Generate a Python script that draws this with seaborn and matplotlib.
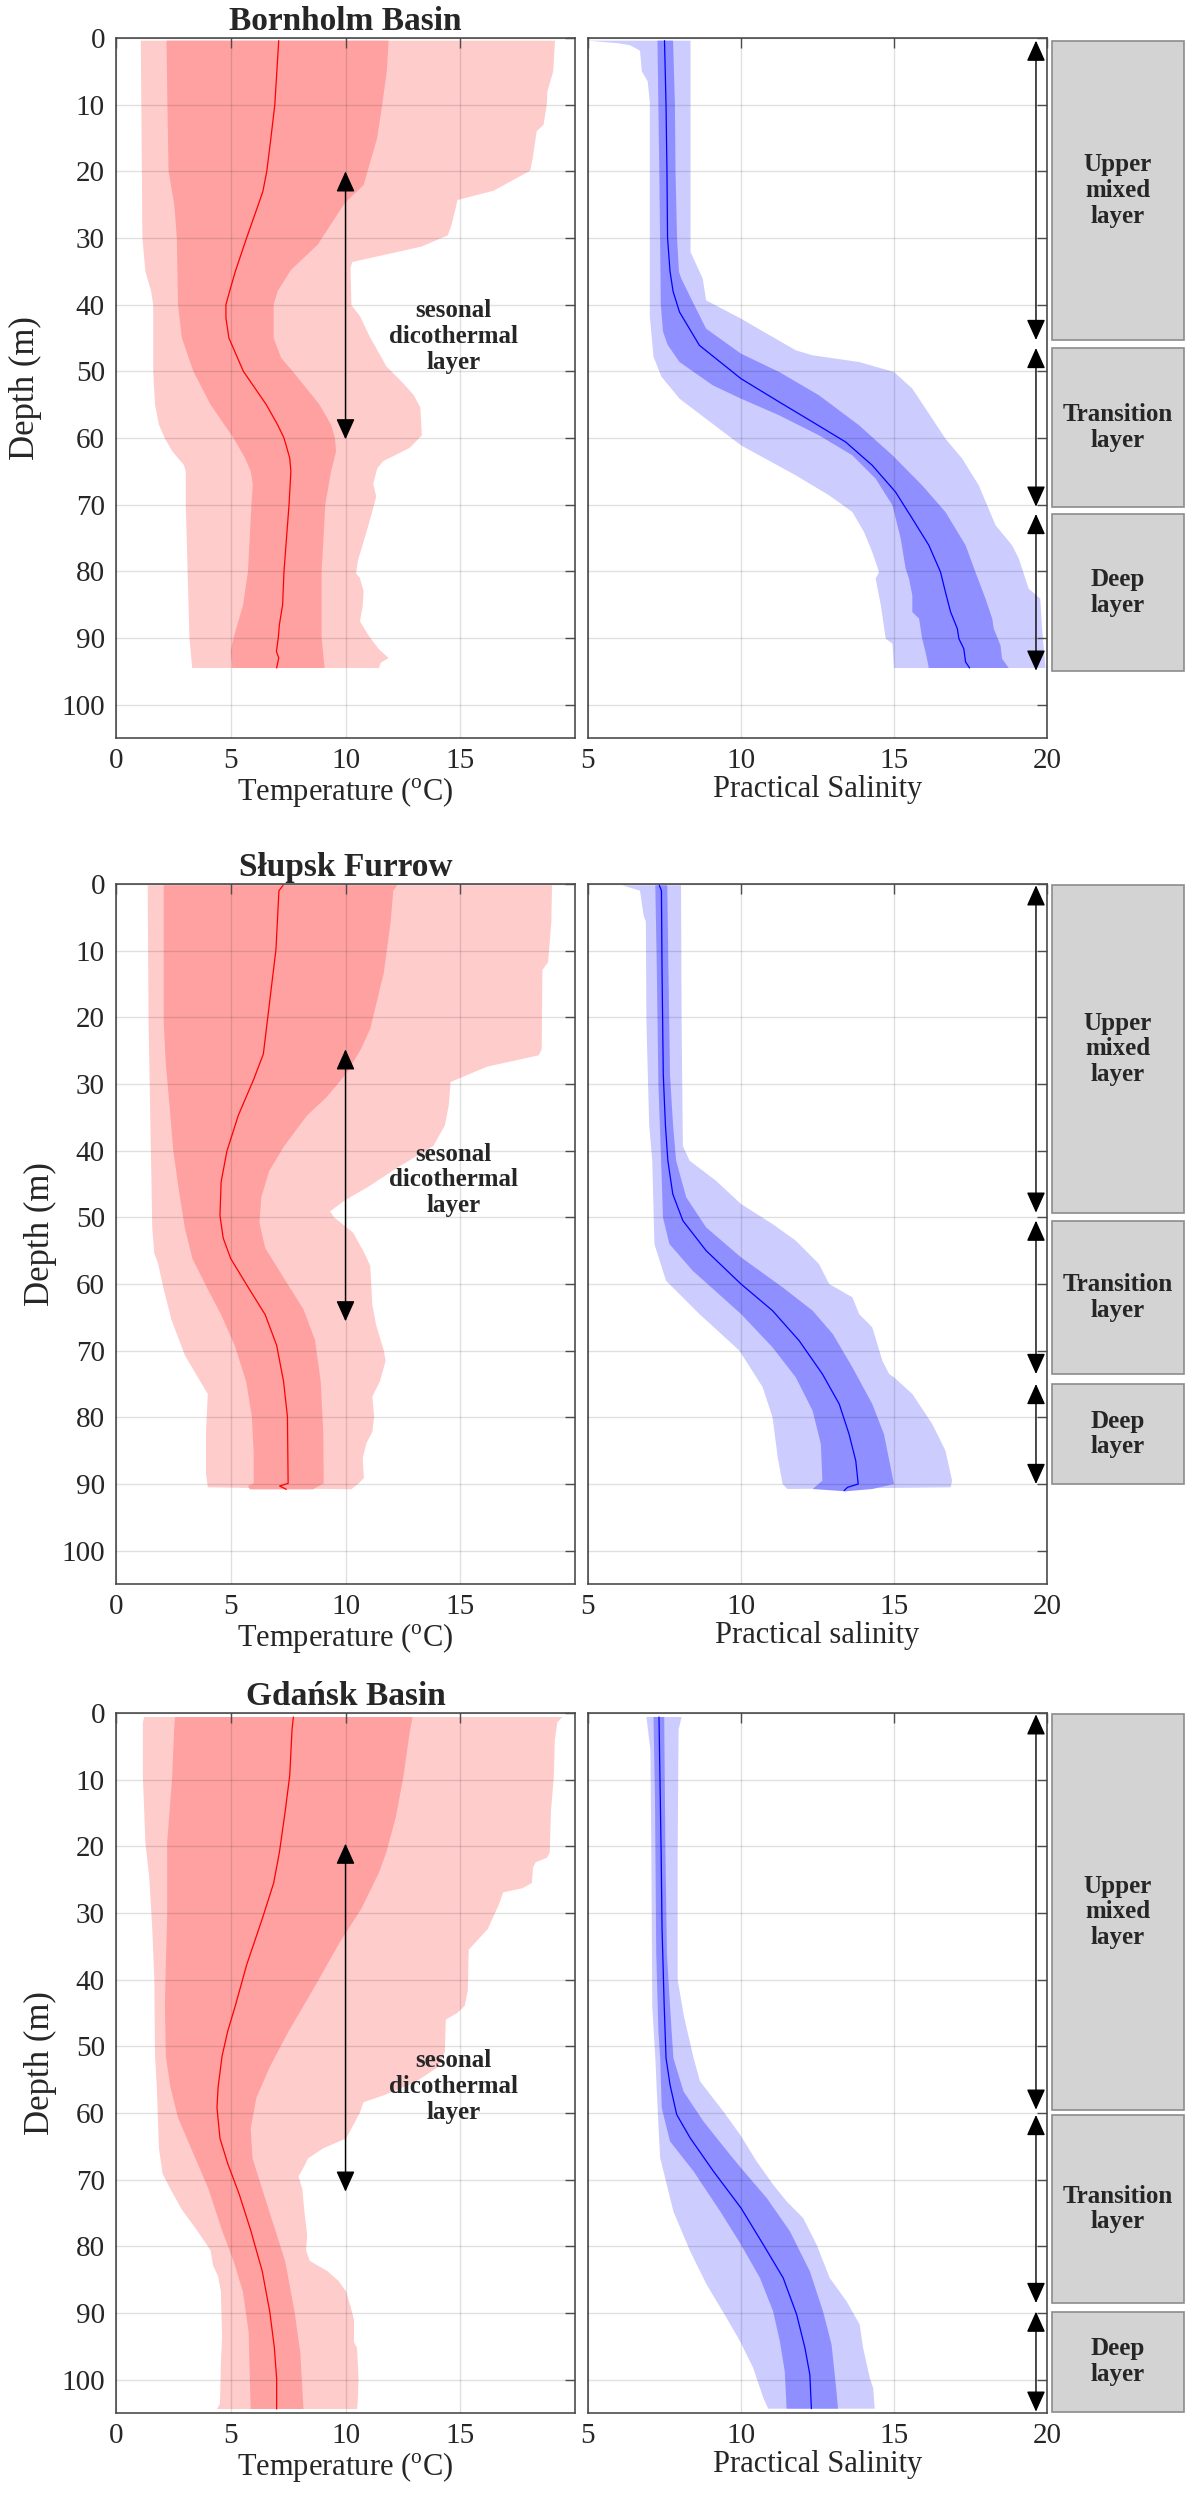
import numpy as np
import matplotlib.pyplot as plt
import seaborn as sns
from matplotlib.patches import Rectangle

# profiles: (depth m, value)
# Bornholm Basin
bh_t_mean = [(0.4, 7.09), (10, 6.92), (15, 6.75), (20, 6.57), (23, 6.4), (25, 6.2), (30, 5.69), (35, 5.2),
             (38, 4.95), (40, 4.79), (42, 4.79), (45, 4.92), (50, 5.55), (55, 6.55), (58, 7.04), (60, 7.32),
             (63, 7.57), (65, 7.62), (70, 7.54), (80, 7.32), (85, 7.26), (88, 7.12), (90, 7.07), (92, 6.99),
             (93, 7.09), (94.5, 7.0)]
bh_t_in_lo = [(0.4, 2.2), (10, 2.24), (20, 2.29), (25, 2.54), (30, 2.65), (40, 2.7), (45, 2.87), (50, 3.37),
              (55, 4.12), (60, 5.12), (63, 5.62), (65, 5.87), (67, 5.96), (70, 5.9), (80, 5.75), (85, 5.54),
              (88, 5.29), (90, 5.12), (92, 5.0), (94.5, 5.07)]
bh_t_in_hi = [(0.4, 11.88), (5, 11.8), (10, 11.6), (15, 11.38), (20, 10.96), (22, 10.8), (24.8, 9.96),
              (31, 8.79), (34.8, 7.62), (38, 7.04), (40, 6.87), (45, 6.87), (48, 7.2), (50, 7.7), (55, 8.87),
              (58, 9.37), (60, 9.54), (62, 9.59), (65, 9.37), (70, 9.12), (75, 9.04), (80, 8.96), (90, 8.96),
              (94.5, 9.09)]
bh_t_out_lo = [(0.4, 1.08), (30, 1.15), (35, 1.28), (38, 1.53), (40, 1.62), (50, 1.62), (55, 1.7), (58, 1.87),
               (60, 2.12), (62, 2.45), (64, 2.95), (65, 3.04), (70, 3.04), (80, 3.12), (90, 3.2), (94.5, 3.32)]
bh_t_out_hi = [(0.4, 19.13), (5, 19.05), (8, 18.8), (10, 18.77), (13, 18.63), (14, 18.33), (18, 18.16),
               (19.9, 18.05), (22.9, 16.46), (24.3, 14.88), (25.5, 14.8), (27.9, 14.63), (29.6, 14.46),
               (31.3, 13.3), (33.6, 10.29), (34.5, 10.22), (40.1, 10.26), (41.7, 10.63), (44.7, 11.04),
               (49.3, 11.79), (51.6, 12.46), (53.5, 12.96), (55.4, 13.26), (59.6, 13.33), (61.5, 12.79),
               (63.5, 11.63), (64.6, 11.38), (66.9, 11.21), (68.8, 11.34), (71.5, 11.13), (74.5, 10.88),
               (78.4, 10.54), (80.3, 10.46), (81, 10.63), (83, 10.79), (85.2, 10.75), (87.5, 10.63),
               (89.8, 11.04), (91.7, 11.46), (93, 11.88), (93.7, 11.54), (94.5, 11.46)]

bh_s_mean = [(0.4, 7.5), (10, 7.55), (20, 7.58), (30, 7.6), (35, 7.68), (38, 7.78), (41.1, 7.99), (46.1, 8.64),
             (51.1, 10.0), (54.6, 11.25), (57.6, 12.34), (60.6, 13.42), (64.1, 14.29), (68.1, 15.05),
             (72.1, 15.6), (76.1, 16.14), (80.1, 16.52), (83.1, 16.68), (86.1, 16.85), (88.6, 17.07),
             (90.1, 17.12), (91.6, 17.28), (93.6, 17.34), (94.5, 17.47)]
bh_s_in_lo = [(0.4, 7.27), (20, 7.33), (40, 7.38), (44, 7.45), (46, 7.6), (48.6, 7.99), (52.1, 9.08),
              (54.1, 10.0), (56.6, 11.25), (59.6, 12.55), (62.6, 13.64), (66.1, 14.4), (70.1, 14.95),
              (75.1, 15.22), (79.6, 15.38), (81.1, 15.49), (83.6, 15.6), (86.1, 15.6), (87.1, 15.82),
              (90.1, 15.92), (92.1, 16.03), (94.5, 16.14)]
bh_s_in_hi = [(0.4, 7.78), (10, 7.84), (20, 7.86), (30, 7.91), (35, 7.97), (36.1, 8.05), (39.1, 8.37),
              (43.6, 8.86), (47.35, 10.0), (50.1, 11.25), (53.6, 12.55), (58.1, 13.86), (62.6, 14.95),
              (67.1, 15.92), (71.1, 16.68), (76.1, 17.34), (80.1, 17.66), (84.1, 17.99), (87.1, 18.21),
              (88.6, 18.26), (91.1, 18.48), (93.1, 18.53), (94.5, 18.75)]
bh_s_out_lo = [(0.4, 5.0), (0.8, 6.0), (1.1, 6.38), (1.9, 6.7), (5.0, 6.76), (6.5, 6.95), (9.6, 7.02),
               (41.7, 7.02), (47.8, 7.14), (50.8, 7.4), (54.1, 7.99), (61.1, 10.0), (65.6, 11.79),
               (68.6, 12.88), (71.1, 13.64), (74.1, 14.02), (77.1, 14.29), (80.1, 14.51), (81.1, 14.4),
               (85.1, 14.57), (90.1, 14.73), (90.85, 14.95), (94.5, 15.0)]
bh_s_out_hi = [(0.4, 8.35), (32.1, 8.35), (36.1, 8.75), (39.35, 8.86), (42.1, 10.0), (46.85, 11.79),
               (47.6, 12.34), (48.6, 13.86), (50.1, 15.0), (52.6, 15.6), (57.1, 16.25), (60.1, 16.68),
               (63.1, 17.23), (67.1, 17.77), (73.1, 18.32), (76.1, 18.86), (78.1, 19.08), (82.6, 19.4),
               (84.1, 19.78), (88.6, 19.84), (94.5, 19.95)]

# Słupsk Furrow
sf_t_mean = [(0.2, 7.28), (1, 7.1), (9.8, 6.97), (19.8, 6.62), (25.5, 6.42), (29.3, 6.0), (34.7, 5.33),
             (40.1, 4.83), (44.7, 4.58), (49.7, 4.53), (53.1, 4.67), (56.2, 5.0), (60.0, 5.67), (64.6, 6.5),
             (69.2, 7.0), (74.6, 7.3), (79.9, 7.47), (89.9, 7.5), (90.3, 7.13), (90.8, 7.42)]
sf_t_in_lo = [(0.2, 2.08), (20.9, 2.08), (27, 2.17), (33.2, 2.33), (40.1, 2.5), (46.2, 2.75), (51.6, 3.0),
              (56.2, 3.33), (60.8, 4.0), (64.6, 4.58), (69.2, 5.17), (74.6, 5.67), (79.9, 5.92), (85.3, 6.0),
              (89.9, 6.0), (90.3, 5.75), (90.8, 5.83)]
sf_t_in_hi = [(0.2, 12.25), (1, 12.08), (5.6, 11.97), (13.3, 11.67), (21.7, 11.08), (24.8, 10.67),
              (28.6, 10.0), (32, 9.17), (34.7, 8.33), (39.3, 7.33), (43.1, 6.67), (47, 6.33), (50.8, 6.25),
              (54.6, 6.5), (59.2, 7.33), (63.8, 8.17), (68.4, 8.67), (74.6, 8.92), (82.2, 9.03), (89.9, 9.05),
              (90.8, 8.58)]
sf_t_out_lo = [(0.2, 1.38), (20.9, 1.42), (36.2, 1.5), (51.6, 1.58), (55.4, 1.67), (56.9, 1.83), (60.8, 2.08),
               (65.4, 2.42), (70.7, 3.0), (74.6, 3.67), (76.5, 4.0), (82.2, 3.92), (88.4, 3.92), (90.5, 4.0)]
sf_t_out_hi = [(0.2, 19.0), (5.6, 18.97), (11.7, 18.83), (12.9, 18.58), (24.8, 18.55), (25.7, 18.42),
               (27.4, 16.17), (29.7, 14.58), (33.2, 14.5), (36.2, 14.33), (39.3, 13.83), (42.4, 12.33),
               (45.4, 11.0), (47.4, 10.0), (49.1, 9.33), (50.0, 9.5), (52.3, 10.33), (55.4, 10.83),
               (57.3, 11.08), (63.1, 11.17), (66.1, 11.33), (70.0, 11.67), (71.5, 11.75), (74.6, 11.5),
               (76.9, 11.17), (79.9, 11.25), (82.2, 11.17), (83.8, 10.92), (86.1, 10.75), (89.1, 10.8),
               (89.9, 10.58), (90.8, 10.25)]

sf_s_mean = [(0.2, 7.33), (1, 7.4), (13.3, 7.42), (28.6, 7.46), (36.2, 7.53), (41.5, 7.61), (46.5, 7.77),
             (50.5, 8.1), (55, 8.86), (60, 10.0), (64, 11.03), (68.5, 11.9), (73.5, 12.66), (78, 13.21),
             (82.5, 13.53), (86.5, 13.75), (90, 13.83), (90.5, 13.48), (91, 13.37)]
sf_s_in_lo = [(0.2, 7.2), (13, 7.25), (30, 7.3), (41.5, 7.39), (50, 7.45), (54, 7.66), (58, 8.42), (64.5, 10.0),
              (69.5, 11.03), (74, 11.79), (79, 12.34), (84, 12.61), (89.5, 12.66), (90.75, 12.34)]
sf_s_in_hi = [(0.2, 7.59), (13.3, 7.63), (28.6, 7.68), (36.2, 7.78), (41.5, 7.88), (47, 8.21), (51.5, 8.86),
              (56, 10.0), (60.5, 11.36), (64, 12.34), (67.5, 13.0), (72.5, 13.64), (78, 14.29), (82.5, 14.67),
              (90, 15.0), (90.75, 14.29), (91.1, 13.42)]
sf_s_out_lo = [(0.2, 6.12), (1, 6.7), (4.8, 6.82), (5.6, 6.89), (20.9, 6.91), (36.2, 7.0), (41.5, 7.1),
               (54, 7.17), (59.5, 7.55), (64.5, 8.64), (70, 9.95), (75.5, 10.71), (80, 11.03), (86, 11.2),
               (90, 11.36), (90.75, 11.52)]
sf_s_out_hi = [(0.2, 8.04), (20.9, 8.06), (39.3, 8.1), (41.5, 8.32), (44.5, 9.18), (48, 10.0), (51, 11.03),
               (53.5, 11.79), (57, 12.55), (60, 12.88), (62, 13.64), (64.5, 13.86), (66.5, 14.29), (71.5, 14.62),
               (73.5, 14.84), (74, 15.0), (76.5, 15.6), (81, 16.25), (85, 16.68), (89.5, 16.9), (90.5, 16.85)]

# Gdańsk Basin
gd_t_mean = [(0.6, 7.73), (2.5, 7.67), (9.4, 7.57), (14.8, 7.37), (20.9, 7.12), (25.5, 6.87), (30.9, 6.37),
             (37.7, 5.7), (43.9, 5.2), (47.7, 4.87), (51.5, 4.62), (56.1, 4.45), (59.2, 4.4), (63.8, 4.53),
             (67.6, 4.87), (72.2, 5.37), (77.6, 5.87), (83.7, 6.37), (89.8, 6.7), (95.2, 6.9), (99.8, 7.0),
             (104.4, 7.0)]
gd_t_in_lo = [(0.6, 2.57), (2.5, 2.53), (9.4, 2.45), (19.4, 2.23), (30.1, 2.23), (37.7, 2.17), (43.9, 2.13),
              (51.5, 2.17), (56.1, 2.37), (60.7, 2.7), (66.1, 3.37), (71.4, 4.03), (77.6, 4.62), (82.2, 5.12),
              (86.8, 5.53), (92.9, 5.78), (99.8, 5.83), (104.4, 5.87)]
gd_t_in_hi = [(0.6, 12.92), (3.3, 12.78), (9.4, 12.53), (15.5, 12.2), (20.9, 11.78), (24.0, 11.45),
              (29.3, 10.7), (34.7, 9.7), (40.8, 8.7), (47.7, 7.53), (53.1, 6.7), (57.7, 6.12), (62.3, 5.87),
              (66.8, 5.95), (71.4, 6.37), (76.8, 6.87), (82.2, 7.37), (89.8, 7.78), (95.9, 8.03), (104.4, 8.17)]
gd_t_out_lo = [(0.6, 1.23), (1.4, 1.17), (9.4, 1.17), (19.4, 1.28), (24.7, 1.45), (32.4, 1.58), (40.0, 1.67),
               (51.5, 1.7), (56.1, 1.78), (65.3, 1.87), (69.1, 2.03), (71.4, 2.37), (74.5, 2.87), (77.6, 3.53),
               (80.6, 4.12), (82.9, 4.23), (84.5, 4.45), (86.8, 4.57), (93.6, 4.62), (97.5, 4.57),
               (103.6, 4.53), (104.4, 4.4)]
gd_t_out_hi = [(0.6, 19.45), (1.4, 19.23), (4.1, 19.12), (9.4, 19.08), (14.8, 18.95), (20.9, 18.9),
               (21.7, 18.78), (22.4, 18.28), (23.2, 18.17), (25.5, 18.12), (26.3, 17.7), (26.9, 16.87),
               (28.6, 16.7), (32.4, 16.2), (35.5, 15.37), (41.6, 15.33), (43.9, 15.2), (45.0, 14.87),
               (46.0, 14.37), (50.8, 14.33), (53.1, 14.03), (55.4, 13.03), (57.3, 11.7), (58.4, 10.78),
               (60.0, 10.62), (63.8, 10.03), (65.3, 9.03), (66.8, 8.37), (68.0, 8.2), (69.5, 7.95),
               (71.4, 8.12), (74.5, 8.2), (78.3, 8.33), (80.6, 8.28), (82.2, 8.45), (83.7, 9.2), (85.2, 9.7),
               (86.8, 10.03), (89.8, 10.28), (91.0, 10.37), (94.4, 10.37), (95.2, 10.5), (99.8, 10.57),
               (103.6, 10.53), (104.4, 10.5)]

gd_s_mean = [(0.6, 7.32), (9.4, 7.35), (20.9, 7.39), (32.4, 7.42), (43.9, 7.49), (51.75, 7.55), (55.75, 7.68),
             (60.25, 7.9), (63.75, 8.34), (68.75, 9.1), (74.25, 10.0), (79.75, 10.73), (84.75, 11.38),
             (90.25, 11.82), (95.25, 12.09), (99.25, 12.25), (104.35, 12.3)]
gd_s_in_lo = [(0.6, 7.14), (13, 7.19), (36, 7.23), (47.7, 7.3), (51.75, 7.36), (59.25, 7.41), (64.25, 7.68),
              (68.75, 8.45), (74.75, 9.32), (79.75, 10.0), (84.75, 10.62), (89.75, 11.05), (94.25, 11.27),
              (98.75, 11.43), (104.35, 11.49)]
gd_s_in_hi = [(0.6, 7.49), (20.9, 7.53), (36.2, 7.58), (43.9, 7.68), (51.75, 7.79), (56.75, 8.12),
              (61.25, 8.77), (66.25, 9.64), (68.25, 10.0), (72.75, 10.84), (77.75, 11.6), (83.75, 12.25),
              (89.75, 12.68), (94.75, 12.96), (101.75, 13.12), (104.35, 13.17)]
gd_s_out_lo = [(0.6, 6.91), (5.6, 7.04), (20.9, 7.07), (43.9, 7.1), (51.75, 7.2), (61.75, 7.3), (66.75, 7.36),
               (74.75, 7.79), (80.75, 8.34), (85.75, 8.88), (90.75, 9.53), (94.25, 9.97), (98.25, 10.4),
               (102.75, 10.73), (104.35, 10.89)]
gd_s_out_hi = [(0.6, 8.06), (2.5, 7.96), (20.9, 7.93), (40, 7.93), (45.4, 8.13), (51.75, 8.45), (55.25, 8.66),
               (59.75, 9.42), (63.25, 9.97), (67.25, 10.51), (70.75, 11.05), (73.25, 11.49), (75.75, 12.03),
               (79.75, 12.47), (84.75, 12.9), (88.25, 13.45), (91.75, 13.88), (95.25, 13.99), (99.75, 14.21),
               (101.25, 14.32), (104.35, 14.37)]

basin_names = ['Bornholm Basin', 'Słupsk Furrow', 'Gdańsk Basin']
sal_labels = ['Practical Salinity', 'Practical salinity', 'Practical Salinity']
layer_names = ['Upper\nmixed\nlayer', 'Transition\nlayer', 'Deep\nlayer']
# depth ranges (m) of the three layers
bh_layers = [(0.4, 45.3), (46.5, 70.3), (71.4, 94.9)]
sf_layers = [(0.2, 49.3), (50.5, 73.5), (75.0, 90.0)]
gd_layers = [(0.2, 59.5), (60.3, 88.5), (89.8, 104.8)]
# seasonal dicothermal layer arrows (depth from, depth to) and label depth
dico_arrows = [(20.0, 60.2), (24.8, 65.6), (19.6, 71.8)]
dico_label_depth = [44.8, 44.4, 56.0]

sns.set_style('white')
plt.rcParams['font.family'] = ['Liberation Serif', 'DejaVu Serif']
plt.rcParams['mathtext.fontset'] = 'custom'
plt.rcParams['mathtext.rm'] = 'Liberation Serif'

RED_L, RED_D = '#ffcccc', '#ffa1a1'
BLUE_L, BLUE_D = '#ccccff', '#8f8fff'
FRAME = '#4d4d4d'


def split(pairs):
    a = np.array(pairs, dtype=float)
    return a[:, 1], a[:, 0]


def band(ax, lo, hi, color):
    lv, ld = split(lo)
    hv, hd = split(hi)
    ax.fill(np.r_[lv, hv[::-1]], np.r_[ld, hd[::-1]], color=color, lw=0, zorder=1)


def mean_line(ax, pairs, color):
    v, d = split(pairs)
    sns.lineplot(x=v, y=d, orient='y', sort=False, estimator=None, color=color, lw=0.9, ax=ax, zorder=3)


def frame(ax, xlim, xticks, show_y):
    ax.set_xlim(*xlim)
    ax.set_ylim(105, 0)
    ax.set_xticks(xticks)
    ax.set_yticks(range(0, 101, 10))
    ax.set_axisbelow(False)
    ax.grid(True, color='black', alpha=0.12, lw=1)
    ax.tick_params(direction='in', top=True, right=True, length=7, width=1, color=FRAME,
                   labelsize=21, labelleft=show_y)
    ax.tick_params(axis='x', pad=7)
    ax.tick_params(axis='y', pad=8)
    for s in ax.spines.values():
        s.set_color(FRAME)
        s.set_linewidth(1.2)


def dbl_arrow(ax, x, d0, d1):
    ax.annotate('', xy=(x, d1), xytext=(x, d0),
                arrowprops=dict(arrowstyle='<|-|>,head_length=0.8,head_width=0.36', color='black',
                                lw=1, shrinkA=0, shrinkB=0, mutation_scale=16))


panels = [
    (bh_t_mean, bh_t_in_lo, bh_t_in_hi, bh_t_out_lo, bh_t_out_hi,
     bh_s_mean, bh_s_in_lo, bh_s_in_hi, bh_s_out_lo, bh_s_out_hi, bh_layers),
    (sf_t_mean, sf_t_in_lo, sf_t_in_hi, sf_t_out_lo, sf_t_out_hi,
     sf_s_mean, sf_s_in_lo, sf_s_in_hi, sf_s_out_lo, sf_s_out_hi, sf_layers),
    (gd_t_mean, gd_t_in_lo, gd_t_in_hi, gd_t_out_lo, gd_t_out_hi,
     gd_s_mean, gd_s_in_lo, gd_s_in_hi, gd_s_out_lo, gd_s_out_hi, gd_layers),
]
bottoms = [0.7048, 0.3664, 0.0348]
ylabel_pads = [14, 3, 3]

fig = plt.figure(figsize=(11.92, 25), dpi=100)

for i, p in enumerate(panels):
    t_mean, t_ilo, t_ihi, t_olo, t_ohi, s_mean, s_ilo, s_ihi, s_olo, s_ohi, layers = p
    b = bottoms[i]
    ax_t = fig.add_axes([116 / 1192, b, 459 / 1192, 0.28])
    ax_s = fig.add_axes([588 / 1192, b, 459 / 1192, 0.28])
    ax_b = fig.add_axes([1049 / 1192, b, 137 / 1192, 0.28])

    # temperature
    band(ax_t, t_olo, t_ohi, RED_L)
    band(ax_t, t_ilo, t_ihi, RED_D)
    mean_line(ax_t, t_mean, 'red')
    frame(ax_t, (0, 20), [0, 5, 10, 15], True)
    ax_t.set_xlabel(r'Temperature ($^{\mathrm{o}}$C)', fontsize=22, labelpad=1)
    ax_t.set_ylabel('Depth (m)', fontsize=25, labelpad=ylabel_pads[i])
    ax_t.set_title(basin_names[i], fontsize=24, fontweight='bold', pad=6)
    d0, d1 = dico_arrows[i]
    dbl_arrow(ax_t, 10, d0, d1)
    ax_t.text(14.7, dico_label_depth[i], 'sesonal\ndicothermal\nlayer', ha='center', va='center',
              fontsize=18, fontweight='bold', linespacing=1.15)

    # salinity
    band(ax_s, s_olo, s_ohi, BLUE_L)
    band(ax_s, s_ilo, s_ihi, BLUE_D)
    mean_line(ax_s, s_mean, 'blue')
    frame(ax_s, (5, 20), [5, 10, 15, 20], False)
    ax_s.set_xlabel(sal_labels[i], fontsize=22, labelpad=1)
    ax_s.set_ylabel('')
    for d0, d1 in layers:
        dbl_arrow(ax_s, 19.64, d0, d1)

    # layer boxes
    ax_b.set_xlim(0, 1)
    ax_b.set_ylim(105, 0)
    ax_b.axis('off')
    for (d0, d1), name in zip(layers, layer_names):
        ax_b.add_patch(Rectangle((0.022, d0), 0.963, d1 - d0, facecolor='#d3d3d3',
                                 edgecolor='#8c8c8c', lw=1.2))
        ax_b.text(0.5, (d0 + d1) / 2, name, ha='center', va='center', fontsize=18,
                  fontweight='bold', linespacing=1.15)

fig.savefig('out.png', dpi=100)
